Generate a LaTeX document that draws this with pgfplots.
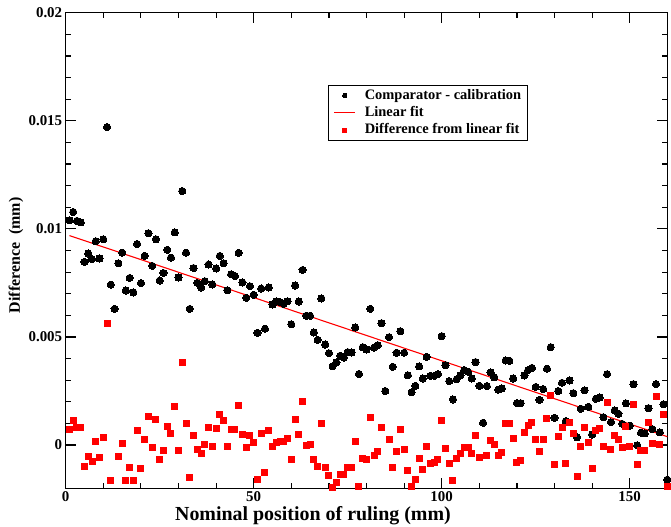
\documentclass[border=0pt]{standalone}
\usepackage{pgfplots}
\usepackage{pgfplotstable}
\usepackage{fontspec}
\setmainfont{Liberation Serif}
\pgfplotsset{compat=1.18}

% Comparator minus calibration (mm) at each nominal ruling position (mm)
\pgfplotstableread{
x y
1 0.01040
2 0.01078
3 0.01037
4 0.01030
5 0.00847
6 0.00886
7 0.00860
8 0.00943
9 0.00863
10 0.00952
11 0.01471
12 0.00742
13 0.00630
14 0.00841
15 0.00890
16 0.00715
17 0.00773
18 0.00706
19 0.00930
20 0.00749
21 0.00875
22 0.00980
23 0.00829
24 0.00952
25 0.00761
26 0.00796
27 0.00903
28 0.00867
29 0.00984
30 0.00775
31 0.01175
32 0.00890
33 0.00630
34 0.00819
35 0.00750
36 0.00729
37 0.00758
38 0.00835
39 0.00743
40 0.00817
41 0.00875
42 0.00841
43 0.00716
44 0.00790
45 0.00782
46 0.00889
47 0.00752
48 0.00681
49 0.00735
50 0.00695
51 0.00519
52 0.00724
53 0.00538
54 0.00729
55 0.00650
56 0.00664
57 0.00661
58 0.00653
59 0.00665
60 0.00559
61 0.00738
62 0.00664
63 0.00810
64 0.00598
65 0.00598
66 0.00521
67 0.00487
68 0.00678
69 0.00465
70 0.00425
71 0.00365
72 0.00382
73 0.00413
74 0.00405
75 0.00430
76 0.00428
77 0.00544
78 0.00329
79 0.00453
80 0.00442
81 0.00630
82 0.00451
83 0.00462
84 0.00564
85 0.00250
86 0.00499
87 0.00362
88 0.00427
89 0.00527
90 0.00427
91 0.00323
92 0.00244
93 0.00274
94 0.00364
95 0.00308
96 0.00408
97 0.00320
98 0.00320
99 0.00328
100 0.00504
101 0.00370
102 0.00296
103 0.00211
104 0.00305
105 0.00323
106 0.00347
107 0.00339
108 0.00308
109 0.00384
110 0.00274
111 0.00103
112 0.00273
113 0.00336
114 0.00313
115 0.00256
116 0.00262
117 0.00391
118 0.00390
119 0.00308
120 0.00194
121 0.00194
122 0.00322
123 0.00347
124 0.00357
125 0.00269
126 0.00209
127 0.00259
128 0.00353
129 0.00453
130 0.00126
131 0.00250
132 0.00288
133 0.00111
134 0.00299
135 0.00240
136 0.00036
137 0.00168
138 0.00253
139 0.00177
140 0.00049
141 0.00214
142 0.00220
143 0.00129
144 0.00328
145 0.00106
146 0.00160
147 0.00145
148 0.00098
149 0.00193
150 0.00090
151 0.00282
152 -0.00001
153 0.00057
154 0.00054
155 0.00171
156 0.00074
157 0.00282
158 0.00059
159 0.00189
160 -0.00160
}\comparator

% Straight-line fit through the comparator data
\pgfplotstableread{
x y
1 0.00969
160 0.00039
}\linfit

% Residuals of the comparator data about the fit
\pgfplotstableread{
x y
1 0.00072
2 0.00114
3 0.00080
4 0.00080
5 -0.00097
6 -0.00052
7 -0.00074
8 0.00015
9 -0.00059
10 0.00037
11 0.00562
12 -0.00163
14 -0.00051
15 0.00005
16 -0.00166
17 -0.00102
18 -0.00165
19 0.00068
20 -0.00108
21 0.00025
22 0.00134
23 -0.00011
24 0.00117
25 -0.00068
26 -0.00025
27 0.00086
28 0.00055
29 0.00179
30 -0.00025
31 0.00382
32 0.00102
33 -0.00152
34 0.00042
35 -0.00020
36 -0.00037
37 0.00001
38 0.00082
39 -0.00005
40 0.00075
41 0.00142
42 0.00112
43 -0.00006
44 0.00071
45 0.00071
46 0.00183
47 0.00051
48 -0.00011
49 0.00045
50 0.00011
51 -0.00159
52 0.00052
53 -0.00128
54 0.00069
55 -0.00005
56 0.00012
57 0.00017
58 0.00017
59 0.00032
60 -0.00065
61 0.00120
62 0.00051
63 0.00203
64 -0.00003
65 0.00003
66 -0.00069
67 -0.00097
68 0.00100
69 -0.00106
70 -0.00142
71 -0.00194
72 -0.00172
73 -0.00136
74 -0.00136
75 -0.00106
76 -0.00103
77 0.00018
78 -0.00190
79 -0.00060
80 -0.00066
81 0.00128
82 -0.00046
83 -0.00029
84 0.00079
86 0.00028
87 -0.00103
88 -0.00032
89 0.00071
90 -0.00022
91 -0.00119
92 -0.00193
93 -0.00157
94 -0.00060
95 -0.00114
96 -0.00006
97 -0.00085
98 -0.00082
99 -0.00066
100 0.00114
101 -0.00015
102 -0.00083
103 -0.00162
104 -0.00062
105 -0.00040
106 -0.00009
107 -0.00010
108 -0.00037
109 0.00046
110 -0.00057
112 -0.00048
113 0.00020
114 0.00003
115 -0.00048
116 -0.00035
117 0.00099
118 0.00102
119 0.00031
120 -0.00080
121 -0.00072
122 0.00060
123 0.00089
124 0.00106
125 0.00025
126 -0.00029
127 0.00028
128 0.00123
129 0.00231
130 -0.00088
131 0.00040
132 0.00082
133 -0.00086
134 0.00106
135 0.00054
136 -0.00146
137 -0.00008
138 0.00082
139 0.00012
140 -0.00108
141 0.00066
142 0.00077
143 -0.00008
144 0.00196
145 -0.00022
146 0.00042
147 0.00028
148 -0.00011
149 0.00088
150 -0.00008
151 0.00189
152 -0.00089
153 -0.00023
154 -0.00023
155 0.00103
156 0.00009
157 0.00225
158 0.00003
159 0.00143
160 -0.00193
}\residual

\definecolor{fitred}{RGB}{255,0,0}

\begin{document}
\begin{tikzpicture}
\begin{axis}[
  at={(0,0)}, anchor=south west,
  scale only axis,
  width=601.6bp, height=475.6bp,
  xmin=0, xmax=160, ymin=-0.002, ymax=0.02,
  axis line style={line width=1.5pt},
  tick align=inside,
  xtick pos=both, ytick pos=both,
  major tick length=10bp, minor tick length=5bp,
  every tick/.style={black, line width=1.2pt},
  xtick={0,50,100,150},
  xticklabels={0,50,100,150},
  minor x tick num=4,
  ytick={0,0.005,0.01,0.015,0.02},
  yticklabels={0,0.005,0.01,0.015,0.02},
  minor y tick num=4,
  /pgf/number format/assume math mode=true,
  ticklabel style={font=\fontsize{15}{18}\selectfont\bfseries},
  xlabel={Nominal position of ruling (mm)},
  ylabel={Difference\ \ (mm)},
  xlabel style={font=\fontsize{20}{24}\selectfont\bfseries, at={(axis description cs:0.411,-0.058)}, anchor=center},
  ylabel style={font=\fontsize{16}{19}\selectfont\bfseries, at={(axis description cs:-0.0826,0.49)}, anchor=center},
  legend cell align=left,
  legend image code/.code={\draw[mark repeat=2,mark phase=2,#1] plot coordinates {(0bp,0bp) (10.5bp,0bp) (21bp,0bp)};},
  legend style={at={(axis description cs:0.4365,0.848)}, anchor=north west,
    draw=black, line width=0.8pt, fill=white,
    font=\fontsize{14.5}{17}\selectfont\bfseries,
    inner xsep=5bp, inner ysep=1.5bp, row sep=0pt, column sep=8bp,
    nodes={inner ysep=1.15bp, inner xsep=1bp, text height=11bp, text depth=4bp}},
]
\addplot[only marks, mark=*, mark size=3.6bp, mark options={fill=black, draw=black, line width=0pt},
  legend image post style={mark size=2.2bp}]
  table[x=x, y=y] {\comparator};
\addlegendentry{Comparator - calibration}
\addplot[fitred, line width=1.1pt, no marks] table[x=x, y=y] {\linfit};
\addlegendentry{Linear fit}
\addplot[only marks, mark=square*, mark size=3bp, mark options={fill=fitred, draw=fitred, line width=0pt},
  legend image post style={mark size=2bp}]
  table[x=x, y=y] {\residual};
\addlegendentry{Difference from linear fit}
\end{axis}
\pgfresetboundingbox
\path[use as bounding box] (-65.7bp,-38.7bp) rectangle (605.3bp,488.3bp);
\end{tikzpicture}
\end{document}
